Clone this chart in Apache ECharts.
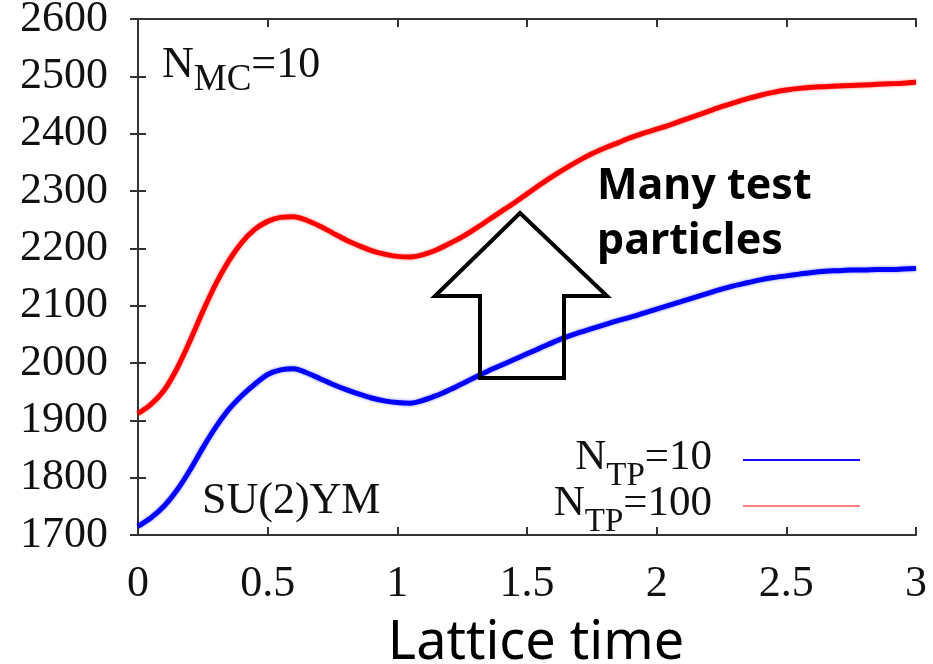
<!DOCTYPE html>
<html>
<head>
<meta charset="utf-8">
<script src="https://cdn.jsdelivr.net/npm/echarts@6/dist/echarts.min.js"></script>
<style>
  html, body { margin: 0; padding: 0; background: #ffffff; }
  #chart { width: 933px; height: 664px; }
</style>
</head>
<body>
<div id="chart"></div>
<script>
// Lattice time samples (shared by both series)
const latticeTime = [
  0.00, 0.05, 0.10, 0.15, 0.20, 0.25, 0.30, 0.35, 0.40, 0.45,
  0.50, 0.55, 0.60, 0.65, 0.70, 0.75, 0.80, 0.85, 0.90, 0.95,
  1.00, 1.05, 1.10, 1.15, 1.20, 1.25, 1.30, 1.35, 1.40, 1.45,
  1.50, 1.55, 1.60, 1.65, 1.70, 1.75, 1.80, 1.85, 1.90, 1.95,
  2.00, 2.05, 2.10, 2.15, 2.20, 2.25, 2.30, 2.35, 2.40, 2.45,
  2.50, 2.55, 2.60, 2.65, 2.70, 2.75, 2.80, 2.85, 2.90, 2.95,
  3.00
];

// N_TP = 10 (blue)
const ntp10 = [
  1715, 1730, 1750, 1778, 1813, 1852, 1888, 1919, 1943, 1963,
  1980, 1988, 1990, 1983, 1973, 1963, 1954, 1946, 1939, 1934,
  1931, 1930, 1935, 1943, 1953, 1964, 1975, 1986, 1996, 2006,
  2016, 2026, 2036, 2045, 2053, 2060, 2067, 2074, 2080, 2087,
  2094, 2101, 2108, 2115, 2122, 2129, 2135, 2140, 2145, 2149,
  2152, 2155, 2158, 2160, 2161, 2162, 2162, 2163, 2163, 2164,
  2165
];

// N_TP = 100 (red)
const ntp100 = [
  1912, 1928, 1952, 1990, 2038, 2090, 2138, 2178, 2210, 2233,
  2247, 2254, 2255, 2249, 2239, 2227, 2215, 2205, 2196, 2190,
  2186, 2185, 2189, 2197, 2208, 2220, 2234, 2249, 2264, 2279,
  2295, 2311, 2326, 2340, 2353, 2365, 2375, 2384, 2393, 2401,
  2408, 2415, 2423, 2431, 2439, 2447, 2454, 2461, 2467, 2472,
  2476, 2479, 2481, 2482, 2483, 2484, 2485, 2486, 2487, 2488,
  2490
];

const xTicks = ['0', '0.5', '1', '1.5', '2', '2.5', '3'];
const yMin = 1700, yMax = 2600, yStep = 100;
const xMin = 0, xMax = 3, xStep = 0.5;

const SERIF = '"Liberation Serif", "DejaVu Serif", serif';
const SANS = '"Noto Sans", "Open Sans", sans-serif';
const AXIS = '#333333';
const TXT = '#111111';

const pairs = (xs, ys) => xs.map((x, i) => [x, ys[i]]);

const chart = echarts.init(document.getElementById('chart'), null, { renderer: 'canvas' });

const xTickLabel = v => {
  const idx = Math.round((v - xMin) / xStep);
  return xTicks[idx] !== undefined ? xTicks[idx] : '';
};
const yTickLabel = v => String(Math.round(v));

const baseAxisX = {
  type: 'value', min: xMin, max: xMax, interval: xStep,
  axisLine: { show: true, lineStyle: { color: AXIS, width: 2 } },
  axisTick: { show: true, inside: true, length: 8, lineStyle: { color: AXIS, width: 2 } },
  splitLine: { show: false }
};
const baseAxisY = {
  type: 'value', min: yMin, max: yMax, interval: yStep,
  axisLine: { show: true, lineStyle: { color: AXIS, width: 2 } },
  axisTick: { show: true, inside: true, length: 8, lineStyle: { color: AXIS, width: 2 } },
  splitLine: { show: false }
};

const subText = (main, sub, tail) => `{n|${main}}{s|${sub}}{n|${tail}}`;
const subRich = (size, subSize, drop) => ({
  n: { fontFamily: SERIF, fontSize: size, fill: TXT, verticalAlign: 'bottom', padding: [0, 0, drop, 0] },
  s: { fontFamily: SERIF, fontSize: subSize, fill: TXT, verticalAlign: 'bottom' }
});

chart.setOption({
  animation: false,
  backgroundColor: '#ffffff',
  grid: { left: 138, right: 17, top: 19, bottom: 129, outerBoundsMode: 'none' },
  xAxis: [
    Object.assign({}, baseAxisX, {
      position: 'bottom',
      axisLabel: { show: true, margin: 27, color: TXT, fontFamily: SERIF, fontSize: 44, formatter: xTickLabel },
      name: 'Lattice time',
      nameLocation: 'middle',
      nameGap: 82,
      nameTextStyle: { fontFamily: SANS, fontSize: 54, color: '#000000', padding: [0, 0, 0, 18] }
    }),
    Object.assign({}, baseAxisX, { position: 'top', axisLabel: { show: false } })
  ],
  yAxis: [
    Object.assign({}, baseAxisY, {
      position: 'left',
      axisLabel: { show: true, margin: 30, color: TXT, fontFamily: SERIF, fontSize: 44, formatter: yTickLabel }
    }),
    Object.assign({}, baseAxisY, { position: 'right', axisLabel: { show: false } })
  ],
  series: [
    {
      name: 'NTP=10', type: 'line', xAxisIndex: 0, yAxisIndex: 0,
      data: pairs(latticeTime, ntp10), smooth: 0.3, showSymbol: false,
      lineStyle: { color: '#0000ff', width: 5, shadowColor: 'rgba(0,0,255,0.5)', shadowBlur: 3 }
    },
    {
      name: 'NTP=100', type: 'line', xAxisIndex: 0, yAxisIndex: 0,
      data: pairs(latticeTime, ntp100), smooth: 0.3, showSymbol: false,
      lineStyle: { color: '#ff0000', width: 5, shadowColor: 'rgba(255,0,0,0.5)', shadowBlur: 3 }
    }
  ],
  graphic: [
    // labels inside the frame
    {
      type: 'text', x: 162, y: 99, z: 10,
      style: { text: subText('N', 'MC', '=10'), rich: subRich(44, 37, 12), align: 'left', verticalAlign: 'bottom' }
    },
    {
      type: 'text', x: 202, y: 523, z: 10,
      style: { text: 'SU(2)YM', fontFamily: SERIF, fontSize: 44, fill: TXT, align: 'left', verticalAlign: 'bottom' }
    },
    // legend
    {
      type: 'text', x: 712, y: 493, z: 10,
      style: { text: subText('N', 'TP', '=10'), rich: subRich(43, 33, 14), align: 'right', verticalAlign: 'bottom' }
    },
    {
      type: 'line', z: 10, shape: { x1: 743, y1: 460, x2: 860, y2: 460 },
      style: { stroke: '#1010ff', lineWidth: 2 }
    },
    {
      type: 'text', x: 712, y: 539, z: 10,
      style: { text: subText('N', 'TP', '=100'), rich: subRich(43, 33, 14), align: 'right', verticalAlign: 'bottom' }
    },
    {
      type: 'line', z: 10, shape: { x1: 743, y1: 506, x2: 860, y2: 506 },
      style: { stroke: '#ff8080', lineWidth: 2 }
    },
    // arrow and its caption
    {
      type: 'polygon', z: 12,
      shape: { points: [[520, 213], [607, 296], [564, 296], [564, 378], [480, 378], [480, 296], [435, 296]] },
      style: { fill: 'none', stroke: '#000000', lineWidth: 4, lineJoin: 'miter' }
    },
    {
      type: 'text', x: 597, y: 208, z: 12,
      style: { text: 'Many test', fontFamily: SANS, fontWeight: 'bold', fontSize: 43, fill: '#000000', align: 'left', verticalAlign: 'bottom' }
    },
    {
      type: 'text', x: 597, y: 263, z: 12,
      style: { text: 'particles', fontFamily: SANS, fontWeight: 'bold', fontSize: 43, fill: '#000000', align: 'left', verticalAlign: 'bottom' }
    }
  ]
});
</script>
</body>
</html>
